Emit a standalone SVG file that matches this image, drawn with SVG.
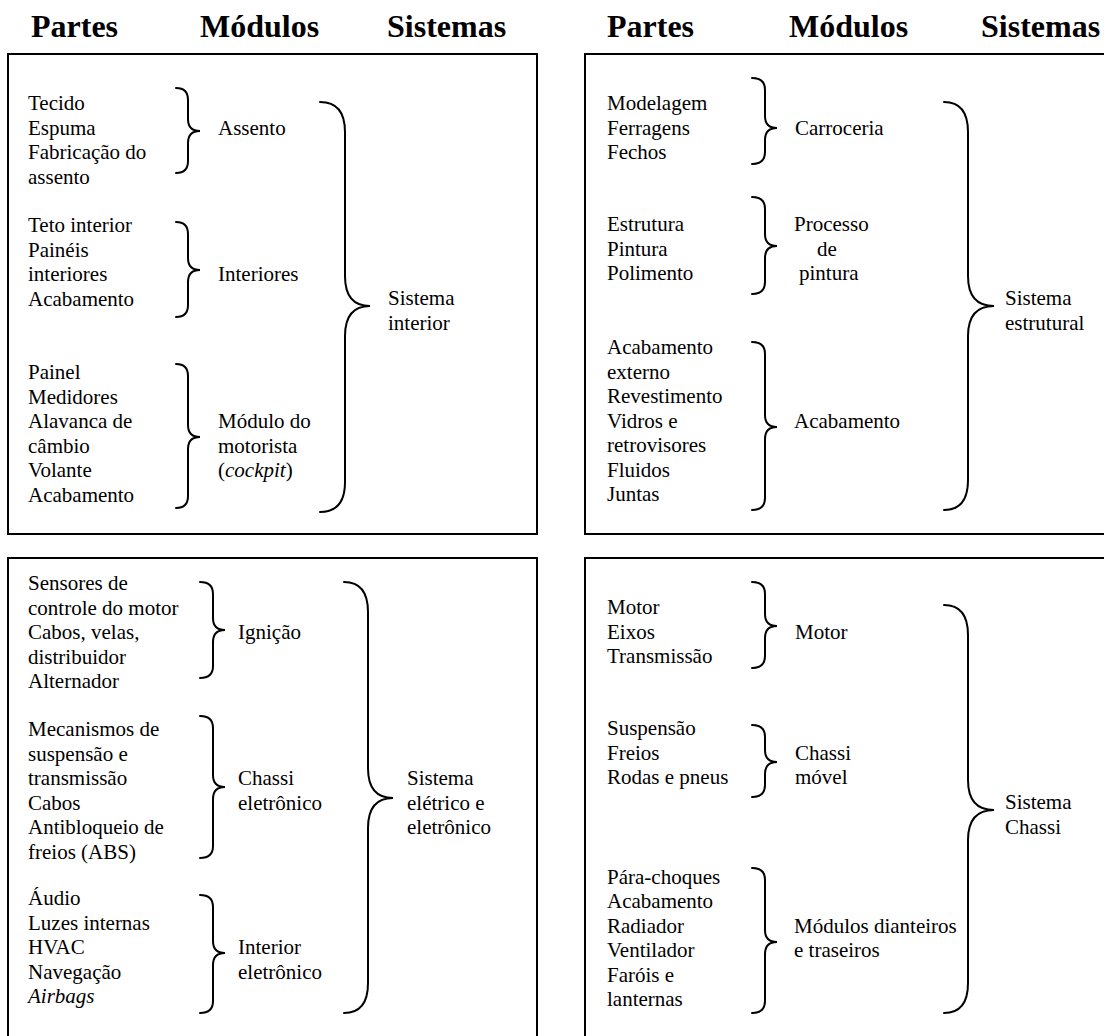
<svg xmlns="http://www.w3.org/2000/svg" width="1104" height="1036" viewBox="0 0 1104 1036">
<style>
.hdr{font-family:"Liberation Serif","Times New Roman",serif;font-size:32px;font-weight:bold;fill:#000}
.t{font-family:"Liberation Serif","Times New Roman",serif;font-size:21px;fill:#000}
.box{fill:none;stroke:#000;stroke-width:2}
.br{fill:none;stroke:#000;stroke-width:2;stroke-linecap:round}
</style>
<rect width="1104" height="1036" fill="#fff"/>
<g id="headers">
<text class="hdr" x="31" y="37">Partes</text>
<text class="hdr" x="200" y="37">Módulos</text>
<text class="hdr" x="387" y="37">Sistemas</text>
<text class="hdr" x="607" y="37">Partes</text>
<text class="hdr" x="789" y="37">Módulos</text>
<text class="hdr" x="981" y="37">Sistemas</text>
</g>
<g id="panels">
<rect class="box" x="8" y="54" width="529" height="480"/>
<rect class="box" x="585" y="54" width="540" height="480"/>
<rect class="box" x="8" y="558" width="529" height="500"/>
<rect class="box" x="585" y="558" width="540" height="500"/>
</g>
<!-- Top-left: Sistema interior -->
<g id="p-assento"><text class="t"><tspan x="28" y="110">Tecido</tspan><tspan x="28" y="134.5">Espuma</tspan><tspan x="28" y="159">Fabricação do</tspan><tspan x="28" y="183.5">assento</tspan></text></g>
<g id="m-assento"><text class="t" x="218" y="134.5">Assento</text></g>
<g id="p-interiores"><text class="t"><tspan x="28" y="232">Teto interior</tspan><tspan x="28" y="256.5">Painéis</tspan><tspan x="28" y="281">interiores</tspan><tspan x="28" y="305.5">Acabamento</tspan></text></g>
<g id="m-interiores"><text class="t" x="218" y="281">Interiores</text></g>
<g id="p-cockpit"><text class="t"><tspan x="28" y="379">Painel</tspan><tspan x="28" y="403.5">Medidores</tspan><tspan x="28" y="428">Alavanca de</tspan><tspan x="28" y="452.5">câmbio</tspan><tspan x="28" y="477">Volante</tspan><tspan x="28" y="501.5">Acabamento</tspan></text></g>
<g id="m-cockpit"><text class="t"><tspan x="218" y="428">Módulo do</tspan><tspan x="218" y="452.5">motorista</tspan><tspan x="218" y="477">(<tspan font-style="italic">cockpit</tspan>)</tspan></text></g>
<g id="s-interior"><text class="t"><tspan x="388" y="305">Sistema</tspan><tspan x="388" y="329.5">interior</tspan></text></g>
<!-- Top-right: Sistema estrutural -->
<g id="p-carroceria"><text class="t"><tspan x="607" y="110">Modelagem</tspan><tspan x="607" y="134.5">Ferragens</tspan><tspan x="607" y="159">Fechos</tspan></text></g>
<g id="m-carroceria"><text class="t" x="795" y="134.5">Carroceria</text></g>
<g id="p-pintura"><text class="t"><tspan x="607" y="231">Estrutura</tspan><tspan x="607" y="255.5">Pintura</tspan><tspan x="607" y="280">Polimento</tspan></text></g>
<g id="m-pintura"><text class="t"><tspan x="794" y="231">Processo</tspan><tspan x="817" y="255.5">de</tspan><tspan x="799" y="280">pintura</tspan></text></g>
<g id="p-acabamento"><text class="t"><tspan x="607" y="354">Acabamento</tspan><tspan x="607" y="378.5">externo</tspan><tspan x="607" y="403">Revestimento</tspan><tspan x="607" y="427.5">Vidros e</tspan><tspan x="607" y="452">retrovisores</tspan><tspan x="607" y="476.5">Fluidos</tspan><tspan x="607" y="501">Juntas</tspan></text></g>
<g id="m-acabamento"><text class="t" x="794" y="427.5">Acabamento</text></g>
<g id="s-estrutural"><text class="t"><tspan x="1005" y="305">Sistema</tspan><tspan x="1005" y="329.5">estrutural</tspan></text></g>
<!-- Bottom-left: Sistema elétrico e eletrônico -->
<g id="p-ignicao"><text class="t"><tspan x="28" y="590">Sensores de</tspan><tspan x="28" y="614.5">controle do motor</tspan><tspan x="28" y="639">Cabos, velas,</tspan><tspan x="28" y="663.5">distribuidor</tspan><tspan x="28" y="688">Alternador</tspan></text></g>
<g id="m-ignicao"><text class="t" x="238" y="639">Ignição</text></g>
<g id="p-chassi-el"><text class="t"><tspan x="28" y="736">Mecanismos de</tspan><tspan x="28" y="760.5">suspensão e</tspan><tspan x="28" y="785">transmissão</tspan><tspan x="28" y="809.5">Cabos</tspan><tspan x="28" y="834">Antibloqueio de</tspan><tspan x="28" y="858.5">freios (ABS)</tspan></text></g>
<g id="m-chassi-el"><text class="t"><tspan x="238" y="785">Chassi</tspan><tspan x="238" y="809.5">eletrônico</tspan></text></g>
<g id="p-int-el"><text class="t"><tspan x="28" y="905">Áudio</tspan><tspan x="28" y="929.5">Luzes internas</tspan><tspan x="28" y="954">HVAC</tspan><tspan x="28" y="978.5">Navegação</tspan><tspan x="28" y="1003" font-style="italic">Airbags</tspan></text></g>
<g id="m-int-el"><text class="t"><tspan x="238" y="954">Interior</tspan><tspan x="238" y="978.5">eletrônico</tspan></text></g>
<g id="s-eletrico"><text class="t"><tspan x="407" y="785">Sistema</tspan><tspan x="407" y="809.5">elétrico e</tspan><tspan x="407" y="834">eletrônico</tspan></text></g>
<!-- Bottom-right: Sistema Chassi -->
<g id="p-motor"><text class="t"><tspan x="607" y="614">Motor</tspan><tspan x="607" y="638.5">Eixos</tspan><tspan x="607" y="663">Transmissão</tspan></text></g>
<g id="m-motor"><text class="t" x="795" y="638.5">Motor</text></g>
<g id="p-chassi-movel"><text class="t"><tspan x="607" y="735">Suspensão</tspan><tspan x="607" y="759.5">Freios</tspan><tspan x="607" y="784">Rodas e pneus</tspan></text></g>
<g id="m-chassi-movel"><text class="t"><tspan x="795" y="759.5">Chassi</tspan><tspan x="795" y="784">móvel</tspan></text></g>
<g id="p-modulos"><text class="t"><tspan x="607" y="884">Pára-choques</tspan><tspan x="607" y="908">Acabamento</tspan><tspan x="607" y="932.5">Radiador</tspan><tspan x="607" y="957">Ventilador</tspan><tspan x="607" y="981.5">Faróis e</tspan><tspan x="607" y="1006">lanternas</tspan></text></g>
<g id="m-modulos"><text class="t"><tspan x="794" y="932.5">Módulos dianteiros</tspan><tspan x="794" y="957">e traseiros</tspan></text></g>
<g id="s-chassi"><text class="t"><tspan x="1005" y="809">Sistema</tspan><tspan x="1005" y="833.5">Chassi</tspan></text></g>
<g id="connectors">
<!-- top-left -->
<path class="br" d="M176,88 Q188,88 188,100 L188,119 Q188,131 200,131 Q188,131 188,143 L188,161 Q188,173 176,173"/>
<path class="br" d="M176,222 Q188,222 188,234 L188,258 Q188,270 200,270 Q188,270 188,282 L188,305 Q188,317 176,317"/>
<path class="br" d="M176,364 Q188,364 188,376 L188,425 Q188,437 200,437 Q188,437 188,449 L188,496 Q188,508 176,508"/>
<path class="br" d="M320,102 Q345,102 345,132 L345,276 Q345,306 370,306 Q345,306 345,336 L345,482 Q345,512 320,512"/>
<!-- top-right -->
<path class="br" d="M752,78 Q765,78 765,90 L765,116 Q765,128 777,128 Q765,128 765,140 L765,152 Q765,164 752,164"/>
<path class="br" d="M752,197 Q765,197 765,209 L765,234 Q765,246 777,246 Q765,246 765,258 L765,282 Q765,294 752,294"/>
<path class="br" d="M752,342 Q765,342 765,354 L765,415 Q765,427 777,427 Q765,427 765,439 L765,498 Q765,510 752,510"/>
<path class="br" d="M944,102 Q968,102 968,132 L968,276 Q968,306 994,306 Q968,306 968,336 L968,480 Q968,510 944,510"/>
<!-- bottom-left -->
<path class="br" d="M200,582 Q213,582 213,594 L213,618 Q213,630 225,630 Q213,630 213,642 L213,666 Q213,678 200,678"/>
<path class="br" d="M200,716 Q213,716 213,728 L213,775 Q213,787 225,787 Q213,787 213,799 L213,846 Q213,858 200,858"/>
<path class="br" d="M200,895 Q213,895 213,907 L213,941 Q213,953 225,953 Q213,953 213,965 L213,1001 Q213,1013 200,1013"/>
<path class="br" d="M344,582 Q368,582 368,612 L368,768 Q368,798 393,798 Q368,798 368,828 L368,983 Q368,1013 344,1013"/>
<!-- bottom-right -->
<path class="br" d="M752,582 Q765,582 765,594 L765,614 Q765,626 777,626 Q765,626 765,638 L765,656 Q765,668 752,668"/>
<path class="br" d="M752,725 Q765,725 765,737 L765,750 Q765,762 777,762 Q765,762 765,774 L765,785 Q765,797 752,797"/>
<path class="br" d="M752,868 Q765,868 765,880 L765,930 Q765,942 777,942 Q765,942 765,954 L765,1001 Q765,1013 752,1013"/>
<path class="br" d="M944,605 Q968,605 968,635 L968,780 Q968,810 994,810 Q968,810 968,840 L968,983 Q968,1013 944,1013"/>
</g>
</svg>
